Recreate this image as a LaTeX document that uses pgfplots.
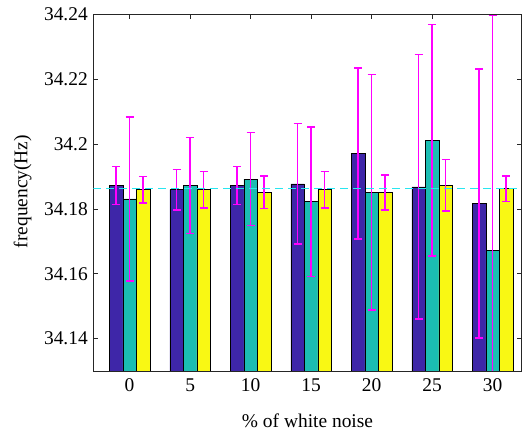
\documentclass[border=0pt]{standalone}
\usepackage{pgfplots}
\pgfplotsset{compat=1.18}
\usepackage{pgfplotstable}
\usepackage{fontspec}
\setmainfont{Liberation Serif}
\definecolor{cblue}{RGB}{62,38,168}
\definecolor{cteal}{RGB}{27,189,178}
\definecolor{cyel}{RGB}{249,248,20}
\definecolor{cmag}{RGB}{255,0,255}
\definecolor{ccyan}{RGB}{40,230,240}
\pgfplotsset{
  myerr/.style={
    forget plot, sharp plot, draw=none, no markers,
    error bars/y dir=both, error bars/y explicit,
    error bars/error mark options={color=cmag, draw=cmag, line width=1.5pt, mark size=4bp, rotate=90},
    error bars/error bar style={color=cmag, draw=cmag, line width=1.5pt, solid},
  },
}
\pgfplotstableread{
x y e
0 34.1872 0.0059
1 34.1859 0.0063
2 34.1872 0.0058
3 34.1877 0.0186
4 34.1971 0.0264
5 34.1868 0.0408
6 34.1816 0.0415
}\datA
\pgfplotstableread{
x y e
0 34.1831 0.0253
1 34.1872 0.0148
2 34.1892 0.0144
3 34.1822 0.0231
4 34.1851 0.0363
5 34.2011 0.0357
6 34.1672 0.0725
}\datB
\pgfplotstableread{
x y e
0 34.1859 0.0041
1 34.1859 0.0057
2 34.1851 0.0050
3 34.1859 0.0057
4 34.1851 0.0054
5 34.1873 0.0079
6 34.1862 0.0039
}\datC
\begin{document}
\begin{tikzpicture}
\useasboundingbox (0,0) rectangle (525bp,434bp);
\begin{axis}[
  at={(93.3bp,63bp)}, anchor=south west,
  scale only axis, width=428.4bp, height=356.7bp,
  xmin=-0.6, xmax=6.48, ymin=34.13, ymax=34.24,
  xtick={0,1,2,3,4,5,6}, xticklabels={0,5,10,15,20,25,30},
  ytick={34.14,34.16,34.18,34.2,34.22,34.24},
  yticklabels={34.14,34.16,34.18,34.2,34.22,34.24},
  tick align=inside, major tick length=5bp,
  axis line style={line width=0.8pt, black!85},
  every tick/.style={black!85, line width=0.6pt},
  tick label style={font=\fontsize{19.5}{19.5}\selectfont},
  label style={font=\fontsize{19.5}{19.5}\selectfont},
  xlabel={\% of white noise}, ylabel={frequency(Hz)},
  ylabel style={at={(axis description cs:-0.165,0.503)}, anchor=center},
  xlabel style={at={(axis description cs:0.5,-0.14)}, anchor=center},
  yticklabel style={xshift=-2bp},
  xticklabel style={yshift=-4bp},
  bar width=13.5bp,
  clip=true,
]
\addplot[ybar, fill=cblue, draw=black, line width=0.6pt, bar shift=-13.5bp] table[x=x, y=y] {\datA};
\addplot[ybar, fill=cteal, draw=black, line width=0.6pt, bar shift=0bp] table[x=x, y=y] {\datB};
\addplot[ybar, fill=cyel, draw=black, line width=0.6pt, bar shift=13.5bp] table[x=x, y=y] {\datC};
\addplot[myerr] table[x expr=\thisrow{x}-0.2231, y=y, y error=e] {\datA};
\addplot[myerr] table[x=x, y=y, y error=e] {\datB};
\addplot[myerr] table[x expr=\thisrow{x}+0.2231, y=y, y error=e] {\datC};
\addplot[ccyan, line width=1pt, dash pattern=on 8bp off 5bp, sharp plot, forget plot, no markers] coordinates {(-0.6,34.1862) (6.48,34.1862)};
\end{axis}
\end{tikzpicture}
\end{document}
